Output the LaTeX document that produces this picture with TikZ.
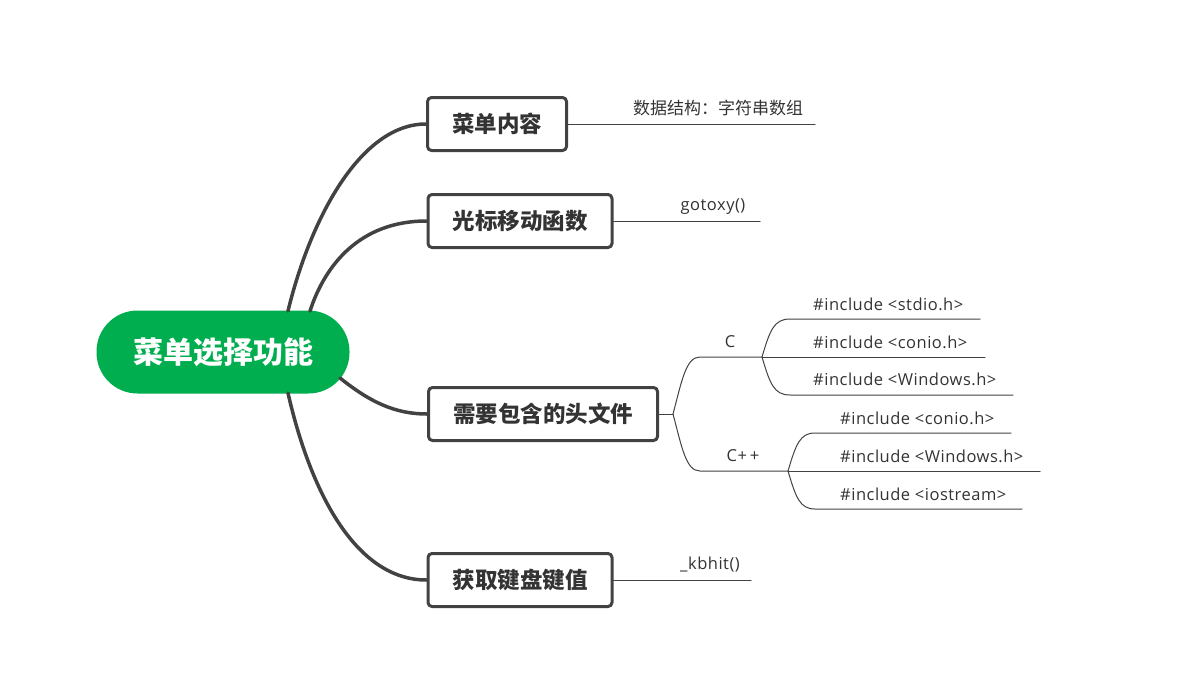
\documentclass[tikz,border=0pt]{standalone}
\usepackage{fontspec}
\setmainfont{Noto Sans CJK SC}
\newfontfamily\latinfont{Open Sans}[LetterSpace=3]
\usetikzlibrary{positioning, calc}
\definecolor{rootgreen}{HTML}{00AE50}
\definecolor{linegray}{HTML}{424242}
\definecolor{textgray}{HTML}{333333}

\begin{document}
\begin{tikzpicture}[x=1pt,y=-1pt, line cap=round, line join=round,
  rootbox/.style={fill=rootgreen, draw=none, rounded corners=41pt, minimum width=253pt,
    minimum height=83pt, text=white, font=\fontsize{30}{34}\selectfont\bfseries},
  topicbox/.style={draw=linegray, line width=3pt, rounded corners=4pt, fill=white,
    minimum height=53pt, inner xsep=24.5pt, text=textgray, font=\fontsize{22.5}{26}\selectfont\bfseries},
  mainline/.style={draw=linegray, line width=3.5pt},
  leafline/.style={draw=linegray, line width=1pt},
  leaftext/.style={text=textgray, font=\fontsize{17}{20}\selectfont, inner sep=0pt},
  codetext/.style={text=textgray, font=\fontsize{16.5}{19}\latinfont, inner sep=0pt, anchor=west}]

\useasboundingbox (0,0) rectangle (1188,688);

\node[rootbox] (root) at (223,352) {菜单选择功能};

\node[topicbox] (menu) at (497,124) {菜单内容};
\node[topicbox] (cursor) at (520,221) {光标移动函数};
\node[topicbox] (header) at (543,414) {需要包含的头文件};
\node[topicbox] (key) at (520,580) {获取键盘键值};

\coordinate (r1) at (288,311);
\coordinate (r2) at (310,311);
\coordinate (r3) at (340,378);
\coordinate (r4) at (288,393);

\draw[mainline] (r1) .. controls (310,220) and (360,124) .. (menu.west);
\draw[mainline] (r2) .. controls (325,265) and (360,221) .. (cursor.west);
\draw[mainline] (r3) .. controls (370,402) and (395,414) .. (header.west);
\draw[mainline] (r4) .. controls (310,490) and (355,580) .. (key.west);

% leaves of menu, cursor, key
\coordinate (menuend) at (815,124);
\coordinate (cursorend) at (760,221);
\coordinate (keyend) at (751,580);
\draw[leafline] (menu.east) -- (menuend);
\draw[leafline] (cursor.east) -- (cursorend);
\draw[leafline] (key.east) -- (keyend);
\node[leaftext] (menutxt) at (718,108) {数据结构：字符串数组};
\node[codetext, anchor=center] (cursortxt) at (713,207) {gotoxy()};
\node[codetext, anchor=center] (keytxt) at (710,565) {\_kbhit()};

% header branch
\coordinate (hj) at (673,414);
\coordinate (cs) at (700,357);
\coordinate (cj) at (762,357);
\coordinate (ps) at (700,471);
\coordinate (pj) at (788,471);
\draw[leafline] (header.east) -- (hj);
\draw[leafline] (hj) .. controls (682,380) and (686,357) .. (cs) -- (cj);
\draw[leafline] (hj) .. controls (682,448) and (686,471) .. (ps) -- (pj);
\node[codetext, anchor=center] (ctxt) at (730,342) {C};
\node[codetext, anchor=center] (cpptxt) at (743,456) {C+\,+};

% C children
\coordinate (c1s) at (790,319);
\coordinate (c1e) at (980,319);
\coordinate (c2e) at (985,357);
\coordinate (c3s) at (790,395);
\coordinate (c3e) at (1013,395);
\draw[leafline] (cj) .. controls (770,330) and (774,319) .. (c1s) -- (c1e);
\draw[leafline] (cj) -- (c2e);
\draw[leafline] (cj) .. controls (770,384) and (774,395) .. (c3s) -- (c3e);
\node[codetext] (c1txt) at (813,304) {\#include <stdio.h>};
\node[codetext] (c2txt) at (813,342) {\#include <conio.h>};
\node[codetext] (c3txt) at (813,379) {\#include <Windows.h>};

% C++ children
\coordinate (p1s) at (815,433);
\coordinate (p1e) at (1011,433);
\coordinate (p2e) at (1040,471);
\coordinate (p3s) at (815,509);
\coordinate (p3e) at (1022,509);
\draw[leafline] (pj) .. controls (796,444) and (800,433) .. (p1s) -- (p1e);
\draw[leafline] (pj) -- (p2e);
\draw[leafline] (pj) .. controls (796,498) and (800,509) .. (p3s) -- (p3e);
\node[codetext] (p1txt) at (840,418) {\#include <conio.h>};
\node[codetext] (p2txt) at (840,456) {\#include <Windows.h>};
\node[codetext] (p3txt) at (840,494) {\#include <iostream>};

\end{tikzpicture}
\end{document}
